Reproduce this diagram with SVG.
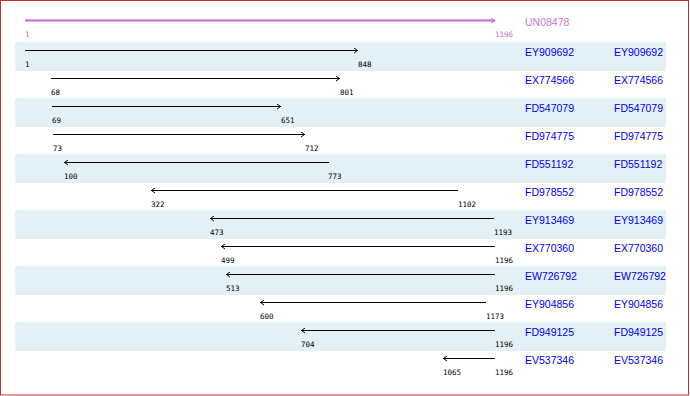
<svg xmlns="http://www.w3.org/2000/svg" width="690" height="396" viewBox="0 0 690 396">
<style>
.bg{fill:#e3f0f5}
.ln{stroke:#000;stroke-width:1;fill:none}
.num{font-family:"DejaVu Sans Mono","Liberation Mono",monospace;font-size:7.5px;fill:#000}
.acc{font-family:"Liberation Sans",Arial,sans-serif;font-size:10.5px;fill:#0000ee}
.ttl{stroke:#cc66cc;stroke-width:2;fill:none}
</style>
<defs>
<marker id="ah" viewBox="0 0 4 6" refX="4" refY="3" markerWidth="4" markerHeight="6" markerUnits="userSpaceOnUse" orient="auto">
<path d="M0,0.5 L3.5,3 L0,5.5" fill="none" stroke="#000" stroke-width="1"/>
</marker>
<marker id="ahm" viewBox="0 0 4 6" refX="4" refY="3" markerWidth="4" markerHeight="6" markerUnits="userSpaceOnUse" orient="auto">
<path d="M0,0.5 L3.5,3 L0,5.5" fill="none" stroke="#cc66cc" stroke-width="1"/>
</marker>
</defs>
<rect x="0.5" y="0.5" width="688" height="394.5" fill="#fff" stroke="#c03030" stroke-width="1"/>
<g id="bands">
<rect class="bg" x="15" y="42" width="651" height="29"/>
<rect class="bg" x="15" y="98" width="651" height="29"/>
<rect class="bg" x="15" y="154" width="651" height="29"/>
<rect class="bg" x="15" y="210" width="651" height="29"/>
<rect class="bg" x="15" y="266" width="651" height="29"/>
<rect class="bg" x="15" y="322" width="651" height="29"/>
</g>
<g id="connectors">
<path class="ttl" d="M25,20.5 H495" marker-end="url(#ahm)"/>
<path class="ln" d="M25,50.5 H358" marker-end="url(#ah)"/>
<path class="ln" d="M51,78.5 H340" marker-end="url(#ah)"/>
<path class="ln" d="M52,106.5 H281" marker-end="url(#ah)"/>
<path class="ln" d="M53,134.5 H305" marker-end="url(#ah)"/>
<path class="ln" d="M329,162.5 H64" marker-end="url(#ah)"/>
<path class="ln" d="M458,190.5 H151" marker-end="url(#ah)"/>
<path class="ln" d="M494,218.5 H210" marker-end="url(#ah)"/>
<path class="ln" d="M495,246.5 H221" marker-end="url(#ah)"/>
<path class="ln" d="M495,274.5 H226" marker-end="url(#ah)"/>
<path class="ln" d="M486,302.5 H260" marker-end="url(#ah)"/>
<path class="ln" d="M495,330.5 H301" marker-end="url(#ah)"/>
<path class="ln" d="M495,358.5 H443" marker-end="url(#ah)"/>
</g>
<g id="UN08478">
<text class="num" x="25" y="36.5" style="fill:#cc66cc">1</text>
<text class="num" x="495" y="36.5" style="fill:#cc66cc">1196</text>
<text class="acc" x="525" y="26" style="fill:#cc77cc">UN08478</text>
</g>
<g id="EY909692">
<text class="num" x="25" y="66.5">1</text><text class="num" x="358" y="66.5">848</text>
<text class="acc" x="525" y="56">EY909692</text><text class="acc" x="614" y="56">EY909692</text>
</g>
<g id="EX774566">
<text class="num" x="51" y="94.5">68</text><text class="num" x="340" y="94.5">801</text>
<text class="acc" x="525" y="84">EX774566</text><text class="acc" x="614" y="84">EX774566</text>
</g>
<g id="FD547079">
<text class="num" x="52" y="122.5">69</text><text class="num" x="281" y="122.5">651</text>
<text class="acc" x="525" y="112">FD547079</text><text class="acc" x="614" y="112">FD547079</text>
</g>
<g id="FD974775">
<text class="num" x="53" y="150.5">73</text><text class="num" x="305" y="150.5">712</text>
<text class="acc" x="525" y="140">FD974775</text><text class="acc" x="614" y="140">FD974775</text>
</g>
<g id="FD551192">
<text class="num" x="64" y="178.5">100</text><text class="num" x="328" y="178.5">773</text>
<text class="acc" x="525" y="168">FD551192</text><text class="acc" x="614" y="168">FD551192</text>
</g>
<g id="FD978552">
<text class="num" x="151" y="206.5">322</text><text class="num" x="458" y="206.5">1102</text>
<text class="acc" x="525" y="196">FD978552</text><text class="acc" x="614" y="196">FD978552</text>
</g>
<g id="EY913469">
<text class="num" x="210" y="234.5">473</text><text class="num" x="494" y="234.5">1193</text>
<text class="acc" x="525" y="224">EY913469</text><text class="acc" x="614" y="224">EY913469</text>
</g>
<g id="EX770360">
<text class="num" x="221" y="262.5">499</text><text class="num" x="495" y="262.5">1196</text>
<text class="acc" x="525" y="252">EX770360</text><text class="acc" x="614" y="252">EX770360</text>
</g>
<g id="EW726792">
<text class="num" x="226" y="290.5">513</text><text class="num" x="495" y="290.5">1196</text>
<text class="acc" x="525" y="280">EW726792</text><text class="acc" x="614" y="280">EW726792</text>
</g>
<g id="EY904856">
<text class="num" x="260" y="318.5">600</text><text class="num" x="486" y="318.5">1173</text>
<text class="acc" x="525" y="308">EY904856</text><text class="acc" x="614" y="308">EY904856</text>
</g>
<g id="FD949125">
<text class="num" x="301" y="346.5">704</text><text class="num" x="495" y="346.5">1196</text>
<text class="acc" x="525" y="336">FD949125</text><text class="acc" x="614" y="336">FD949125</text>
</g>
<g id="EV537346">
<text class="num" x="443" y="374.5">1065</text><text class="num" x="495" y="374.5">1196</text>
<text class="acc" x="525" y="364">EV537346</text><text class="acc" x="614" y="364">EV537346</text>
</g>
</svg>
